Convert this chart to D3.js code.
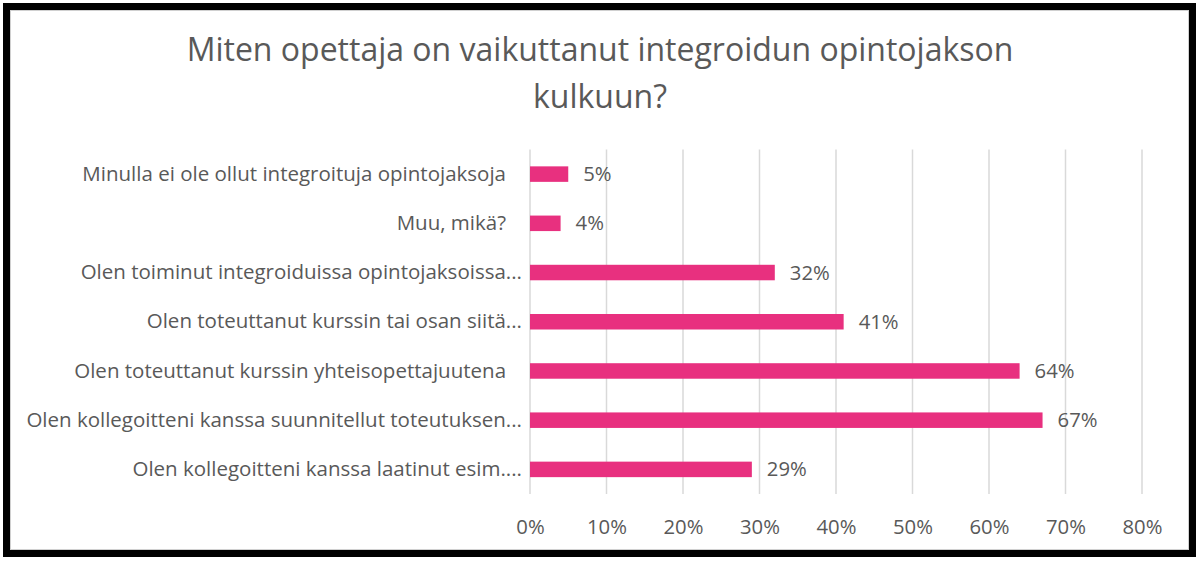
<!DOCTYPE html>
<html><head><meta charset="utf-8">
<script src="https://cdn.jsdelivr.net/npm/d3@7"></script>
<style>html,body{margin:0;padding:0;background:#fff;}svg{display:block;} .ylab{white-space:pre;}</style>
</head><body>
<svg id="chart" width="1200" height="562"></svg>
<script>
const categories = [
  "Minulla ei ole ollut integroituja opintojaksoja   ",
  "Muu, mikä?   ",
  "Olen toiminut integroiduissa opintojaksoissa...",
  "Olen toteuttanut kurssin tai osan siitä...",
  "Olen toteuttanut kurssin yhteisopettajuutena   ",
  "Olen kollegoitteni kanssa suunnitellut toteutuksen...",
  "Olen kollegoitteni kanssa laatinut esim...."
];
const values = [5, 4, 32, 41, 64, 67, 29];
const xTicks = [0, 10, 20, 30, 40, 50, 60, 70, 80];
const titleLines = ["Miten opettaja on vaikuttanut integroidun opintojakson", "kulkuun?"];

const svg = d3.select("#chart");
const font = "'Open Sans', 'Liberation Sans', Arial, sans-serif";
const textColor = "#595959";

svg.append("rect").attr("x", 0).attr("y", 0).attr("width", 1200).attr("height", 562).attr("fill", "#fff");
svg.append("rect").attr("x", 6.5).attr("y", 6.5).attr("width", 1186).attr("height", 547)
  .attr("fill", "none").attr("stroke", "#000").attr("stroke-width", 7);
svg.append("rect").attr("x", 10.5).attr("y", 10.5).attr("width", 1178).attr("height", 539)
  .attr("fill", "none").attr("stroke", "#d0d0d0").attr("stroke-width", 1);

const x = d3.scaleLinear().domain([0, 80]).range([530, 1142]);
const y = d3.scaleBand().domain(categories).range([149.5, 494]).paddingInner(0.685).paddingOuter(0.3425);

function fitSize(text, target, base) {
  const t = svg.append("text").attr("font-family", font).attr("font-size", base).text(text);
  const w = t.node().getComputedTextLength();
  t.remove();
  return w > 0 ? base * target / w : base;
}
const titleSize = fitSize(titleLines[0], 827, 30);
const labelSize = fitSize(categories[5], 496, 19);
const tickSize = fitSize("80%", 40, 18);

// title
svg.append("g").selectAll("text").data(titleLines).join("text")
  .attr("x", 600).attr("y", (d, i) => 50 + i * 47)
  .attr("dy", "0.35em")
  .attr("text-anchor", "middle").attr("font-family", font).attr("font-size", titleSize)
  .attr("fill", textColor).text(d => d);

// gridlines
svg.append("g").selectAll("line").data(xTicks).join("line")
  .attr("x1", d => x(d)).attr("x2", d => x(d)).attr("y1", 149.5).attr("y2", 494)
  .attr("stroke", "#d9d9d9").attr("stroke-width", 1.5);

// x axis
const xAxis = d3.axisBottom(x).tickValues(xTicks).tickFormat(d => d + "%").tickSize(0).tickPadding(0);
const gx = svg.append("g").attr("transform", "translate(0,527)").call(xAxis);
gx.select(".domain").remove();
gx.selectAll("text").attr("font-family", font).attr("font-size", tickSize).attr("fill", textColor).attr("dy", "0.35em");

// y axis
const yAxis = d3.axisLeft(y).tickSize(0).tickPadding(8);
const gy = svg.append("g").attr("transform", "translate(530,0)").call(yAxis);
gy.select(".domain").remove();
gy.selectAll("text").attr("class", "ylab").attr("font-family", font).attr("font-size", labelSize).attr("fill", textColor);

// bars
svg.append("g").selectAll("rect").data(values).join("rect")
  .attr("x", x(0)).attr("y", (d, i) => y(categories[i]))
  .attr("width", d => x(d) - x(0)).attr("height", y.bandwidth())
  .attr("fill", "#e8307f");

// labels
svg.append("g").selectAll("text").data(values).join("text")
  .attr("x", d => x(d) + 15).attr("y", (d, i) => y(categories[i]) + y.bandwidth() / 2)
  .attr("dy", "0.35em").attr("font-family", font).attr("font-size", tickSize)
  .attr("fill", textColor).text(d => d + "%");
</script>
</body></html>
